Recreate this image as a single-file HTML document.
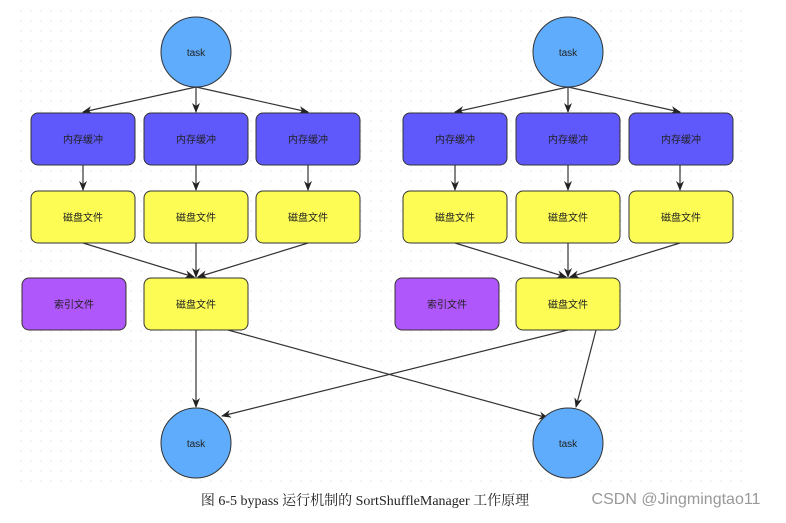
<!DOCTYPE html>
<html><head><meta charset="utf-8"><style>
html,body{margin:0;padding:0;background:#fff;}
body{width:786px;height:518px;overflow:hidden;}
</style></head><body>
<svg width="786" height="518" viewBox="0 0 786 518" xmlns="http://www.w3.org/2000/svg" font-family="'Liberation Sans','Noto Sans CJK SC',sans-serif">
<defs>
<pattern id="dots" width="10" height="10" patternUnits="userSpaceOnUse"><circle cx="1" cy="1" r="0.7" fill="#e2e2e2"/></pattern>
<marker id="a" markerWidth="10" markerHeight="8" refX="9" refY="4" orient="auto" markerUnits="userSpaceOnUse"><path d="M0,0 L10,4 L0,8 L3,4 Z" fill="#222"/></marker>
</defs>
<rect x="18" y="8" width="725" height="482" fill="url(#dots)"/>
<g stroke="#333" stroke-width="1.2" fill="none" marker-end="url(#a)">
<line x1="196" y1="87" x2="83" y2="112"/>
<line x1="196" y1="87" x2="196" y2="112"/>
<line x1="196" y1="87" x2="308" y2="112"/>
<line x1="568" y1="87" x2="455" y2="112"/>
<line x1="568" y1="87" x2="568" y2="112"/>
<line x1="568" y1="87" x2="680" y2="112"/>
<line x1="83" y1="165" x2="83" y2="190"/>
<line x1="196" y1="165" x2="196" y2="190"/>
<line x1="308" y1="165" x2="308" y2="190"/>
<line x1="455" y1="165" x2="455" y2="190"/>
<line x1="568" y1="165" x2="568" y2="190"/>
<line x1="680" y1="165" x2="680" y2="190"/>
<line x1="83" y1="243" x2="194" y2="277"/>
<line x1="196" y1="243" x2="196" y2="277"/>
<line x1="308" y1="243" x2="198" y2="277"/>
<line x1="455" y1="243" x2="566" y2="277"/>
<line x1="568" y1="243" x2="568" y2="277"/>
<line x1="680" y1="243" x2="570" y2="277"/>
<line x1="196" y1="330" x2="196" y2="407"/>
<line x1="228" y1="330" x2="548" y2="418"/>
<line x1="568" y1="330" x2="222" y2="416"/>
<line x1="596" y1="330" x2="576" y2="407"/>
</g>
<g stroke="#333" stroke-width="1">
<circle cx="196" cy="52" r="35" fill="#5eacfb"/>
<circle cx="568" cy="52" r="35" fill="#5eacfb"/>
<ellipse cx="196" cy="443" rx="35" ry="35" fill="#5eacfb"/>
<ellipse cx="568" cy="443" rx="35" ry="35" fill="#5eacfb"/>
<g fill="#5f58fb">
<rect x="31" y="113" width="104" height="52" rx="7"/>
<rect x="144" y="113" width="104" height="52" rx="7"/>
<rect x="256" y="113" width="104" height="52" rx="7"/>
<rect x="403" y="113" width="104" height="52" rx="7"/>
<rect x="516" y="113" width="104" height="52" rx="7"/>
<rect x="629" y="113" width="104" height="52" rx="7"/>
</g>
<g fill="#fcfc55">
<rect x="31" y="191" width="104" height="52" rx="7"/>
<rect x="144" y="191" width="104" height="52" rx="7"/>
<rect x="256" y="191" width="104" height="52" rx="7"/>
<rect x="403" y="191" width="104" height="52" rx="7"/>
<rect x="516" y="191" width="104" height="52" rx="7"/>
<rect x="629" y="191" width="104" height="52" rx="7"/>
<rect x="144" y="278" width="104" height="52" rx="7"/>
<rect x="516" y="278" width="104" height="52" rx="7"/>
</g>
<g fill="#b057fb">
<rect x="22" y="278" width="104" height="52" rx="7"/>
<rect x="395" y="278" width="104" height="52" rx="7"/>
</g>
</g>
<g font-size="10" fill="#222" text-anchor="middle">
<text x="196" y="56">task</text><text x="568" y="56">task</text>
<text x="196" y="447">task</text><text x="568" y="447">task</text>
<text x="83" y="143">内存缓冲</text><text x="196" y="143">内存缓冲</text><text x="308" y="143">内存缓冲</text>
<text x="455" y="143">内存缓冲</text><text x="568" y="143">内存缓冲</text><text x="681" y="143">内存缓冲</text>
<text x="83" y="221">磁盘文件</text><text x="196" y="221">磁盘文件</text><text x="308" y="221">磁盘文件</text>
<text x="455" y="221">磁盘文件</text><text x="568" y="221">磁盘文件</text><text x="681" y="221">磁盘文件</text>
<text x="74" y="308">索引文件</text><text x="196" y="308">磁盘文件</text>
<text x="447" y="308">索引文件</text><text x="568" y="308">磁盘文件</text>
</g>
<text x="365" y="505" text-anchor="middle" font-family="'Liberation Serif','Noto Serif CJK SC',serif" font-size="14" fill="#222">图 6-5 bypass 运行机制的 SortShuffleManager 工作原理</text>
<text x="676" y="504" text-anchor="middle" font-size="16" fill="#999">CSDN @Jingmingtao11</text>
</svg>
</body></html>
